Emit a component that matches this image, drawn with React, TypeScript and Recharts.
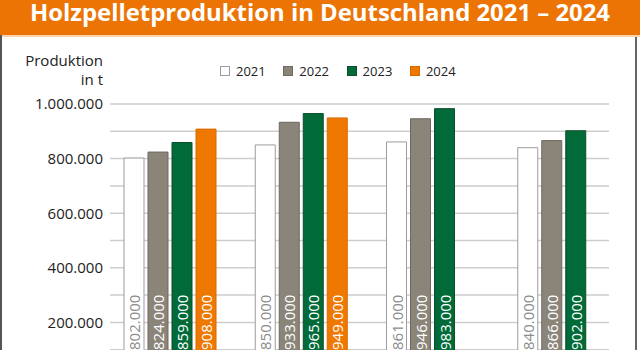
import React from 'react';
import { BarChart, Bar, XAxis, YAxis, CartesianGrid, Legend, LabelList } from 'recharts';

const categories = ['1', '2', '3', '4'];
const years = ['2021', '2022', '2023', '2024'];
const v2021 = [802000, 850000, 861000, 840000];
const v2022 = [824000, 933000, 946000, 866000];
const v2023 = [859000, 965000, 983000, 902000];
const v2024: (number | null)[] = [908000, 949000, null, null];
const yTicks = [0, 100000, 200000, 300000, 400000, 500000, 600000, 700000, 800000, 900000, 1000000];

const data = categories.map((c, i) => ({
  cat: c,
  y2021: v2021[i],
  y2022: v2022[i],
  y2023: v2023[i],
  y2024: v2024[i],
}));

const fmt = (n: number) => String(n).replace(/\B(?=(\d{3})+(?!\d))/g, '.');

const FONT = '"Open Sans", sans-serif';

const series = [
  { key: 'y2021', name: years[0], fill: '#ffffff', stroke: '#9c9c9c', label: '#8c8c8c' },
  { key: 'y2022', name: years[1], fill: '#8b8579', stroke: '#6e695f', label: '#ffffff' },
  { key: 'y2023', name: years[2], fill: '#006a38', stroke: '#0d4f2d', label: '#ffffff' },
  { key: 'y2024', name: years[3], fill: '#ef7800', stroke: '#d86b00', label: '#ffffff' },
];

const makeLabel = (color: string) => (props: any) => {
  const { x, y, width, height, value } = props;
  if (value == null) return null;
  const cx = Number(x) + Number(width) / 2;
  const by = Number(y) + Number(height) - 27;
  return (
    <text
      x={cx}
      y={by}
      transform={`rotate(-90 ${cx} ${by})`}
      fill={color}
      fontSize={15}
      fontFamily={FONT}
      textAnchor="start"
      dominantBaseline="central"
    >
      {fmt(Number(value))}
    </text>
  );
};

const LegendContent = () => (
  <div style={{ position: 'relative', width: 640, height: 20 }}>
    {series.map((s, i) => (
      <div
        key={s.key}
        style={{
          position: 'absolute',
          left: 220 + i * 63.3,
          top: 0,
          height: 20,
          display: 'flex',
          alignItems: 'center',
          fontFamily: FONT,
          fontSize: 13,
          color: '#222',
        }}
      >
        <span
          style={{
            display: 'inline-block',
            width: 8,
            height: 8,
            background: s.fill,
            border: `1px solid ${s.stroke}`,
            marginRight: 6,
          }}
        />
        <span>{s.name}</span>
      </div>
    ))}
  </div>
);

export default function App() {
  return (
    <div
      style={{
        position: 'absolute',
        top: 0,
        left: 0,
        width: 640,
        height: 350,
        overflow: 'hidden',
        background: '#fff',
        fontFamily: FONT,
      }}
    >
      <svg width={640} height={38} style={{ position: 'absolute', top: 0, left: 0 }}>
        <rect x={0} y={0} width={640} height={35} fill="#ec7405" />
        <rect x={0} y={35} width={640} height={2} fill="#f8d2ab" />
        <text
          x={320}
          y={21}
          textAnchor="middle"
          fontSize={24}
          fontWeight={700}
          fill="#ffffff"
          fontFamily={FONT}
          textLength={580}
          lengthAdjust="spacingAndGlyphs"
        >
          Holzpelletproduktion in Deutschland 2021 – 2024
        </text>
      </svg>
      <div style={{ position: 'absolute', left: 0, top: 35, width: 2, height: 320, background: '#555' }} />
      <div style={{ position: 'absolute', left: 635, top: 37, width: 2, height: 320, background: '#666' }} />
      <div
        style={{
          position: 'absolute',
          left: 0,
          top: 51,
          width: 103,
          textAlign: 'right',
          fontSize: 15,
          lineHeight: '19px',
          color: '#222',
        }}
      >
        Produktion
        <br />
        in t
      </div>
      <div style={{ position: 'absolute', top: 0, left: 0 }}>
        <BarChart
          width={640}
          height={400}
          data={data}
          margin={{ top: 104, right: 31, bottom: 3, left: 0 }}
          barSize={20}
          barGap={4}
        >
          <CartesianGrid vertical={false} stroke="#cdcdcd" strokeWidth={1.5} />
          <XAxis dataKey="cat" hide padding={{ left: -6, right: -20 }} />
          <YAxis
            width={110}
            domain={[0, 1000000]}
            ticks={yTicks}
            interval={0}
            axisLine={false}
            tickLine={false}
            tickSize={0}
            tickMargin={7}
            tickFormatter={(v: number) => (v % 200000 === 0 ? fmt(v) : '')}
            tick={{ fontSize: 15, fill: '#222', fontFamily: FONT }}
          />
          <Legend
            content={<LegendContent />}
            wrapperStyle={{ position: 'absolute', top: 61, left: 0, width: 640, bottom: 'auto' }}
          />
          {series.map((s) => (
            <Bar
              key={s.key}
              dataKey={s.key}
              name={s.name}
              fill={s.fill}
              stroke={s.stroke}
              strokeWidth={1}
              isAnimationActive={false}
            >
              <LabelList dataKey={s.key} content={makeLabel(s.label)} />
            </Bar>
          ))}
        </BarChart>
      </div>
    </div>
  );
}
